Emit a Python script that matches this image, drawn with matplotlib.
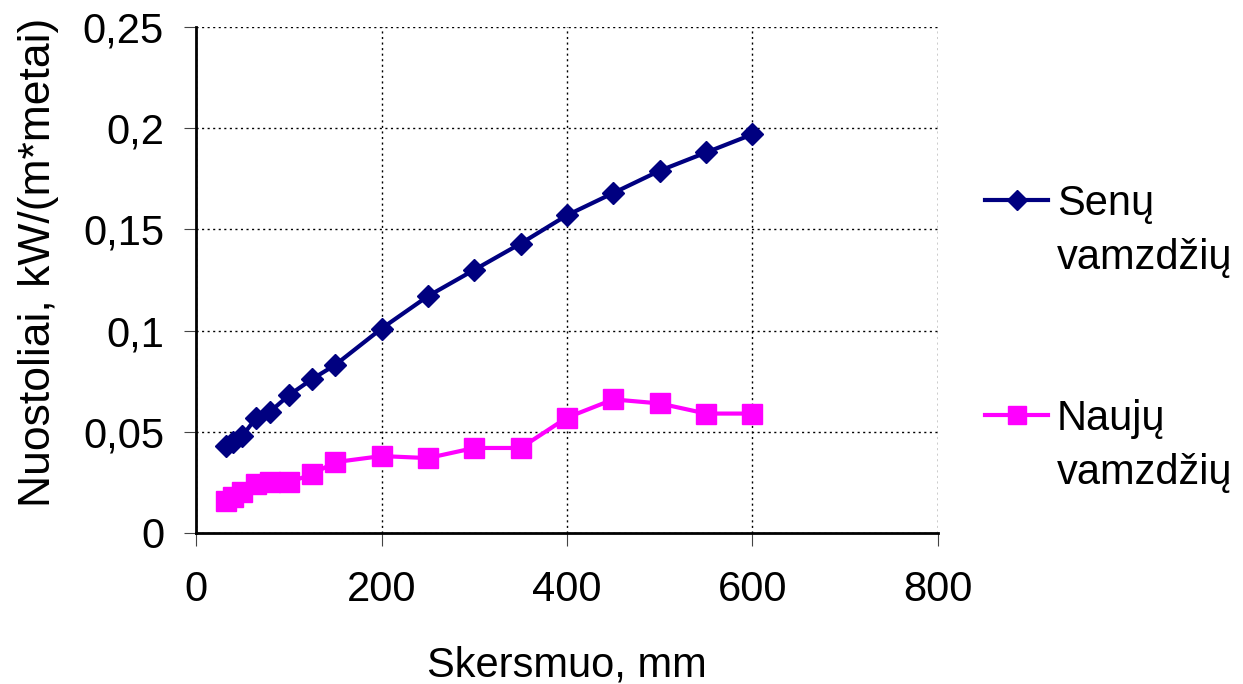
import matplotlib.pyplot as plt
from matplotlib.lines import Line2D
from matplotlib.ticker import FuncFormatter

plt.rcParams['font.family'] = ['Liberation Sans', 'DejaVu Sans']

# Duomenys
skersmuo = [32, 40, 50, 65, 80, 100, 125, 150, 200, 250, 300, 350, 400, 450, 500, 550, 600]
senu = [0.043, 0.045, 0.048, 0.057, 0.060, 0.068, 0.076, 0.083, 0.101, 0.117, 0.130,
        0.143, 0.157, 0.168, 0.179, 0.188, 0.197]
nauju = [0.016, 0.018, 0.020, 0.024, 0.025, 0.025, 0.029, 0.035, 0.038, 0.037, 0.042,
         0.042, 0.057, 0.066, 0.064, 0.059, 0.059]
y_ticks = [0, 0.05, 0.1, 0.15, 0.2, 0.25]
x_ticks = [0, 200, 400, 600, 800]
serijos = [('Senų', 'vamzdžių', '#000080', 'D', 11.5),
           ('Naujų', 'vamzdžių', '#FF00FF', 's', 14)]

fig = plt.figure(figsize=(12.43, 6.84), dpi=100)
ax = fig.add_axes([0.1577, 0.2208, 0.5969, 0.7397])

for (l1, l2, c, m, ms), y in zip(serijos, [senu, nauju]):
    ax.plot(skersmuo, y, color=c, lw=3, marker=m, ms=ms)

ax.set_xlim(0, 800)
ax.set_ylim(0, 0.25)
ax.set_xticks(x_ticks)
ax.set_yticks(y_ticks)
ax.yaxis.set_major_formatter(FuncFormatter(lambda v, p: ('%g' % v).replace('.', ',')))
ax.tick_params(labelsize=30, width=0.8, length=9, direction='out', color='#444444')
ax.tick_params(axis='y', pad=14)
ax.tick_params(axis='x', pad=18)
ax.grid(True, color='black', linestyle=(0, (1.5, 2.5)), lw=1)
ax.spines['top'].set_visible(False)
ax.spines['right'].set_visible(False)
ax.spines['left'].set_linewidth(2)
ax.spines['bottom'].set_linewidth(2)

ax.set_xlabel('Skersmuo, mm', fontsize=30)
ax.xaxis.set_label_coords(0.5, -0.222)
ax.set_ylabel('Nuostoliai, kW/(m*metai)', fontsize=32)
ax.yaxis.set_label_coords(-0.185, 0.535)

# legenda rankiniu budu (tekstas dviem eilutem, zymeklis prie pirmos)
leg_y = [0.707, 0.393]
for (l1, l2, c, m, ms), yy in zip(serijos, leg_y):
    fig.add_artist(Line2D([0.7924, 0.8431], [yy, yy], color=c, lw=3,
                          transform=fig.transFigure))
    fig.add_artist(Line2D([0.8178], [yy], color=c, marker=m, ms=ms * 0.9,
                          transform=fig.transFigure))
    fig.text(0.8503, yy - 0.022, l1, fontsize=30, va='baseline', ha='left')
    fig.text(0.8503, yy - 0.1, l2, fontsize=30, va='baseline', ha='left')

fig.savefig('out.png')
